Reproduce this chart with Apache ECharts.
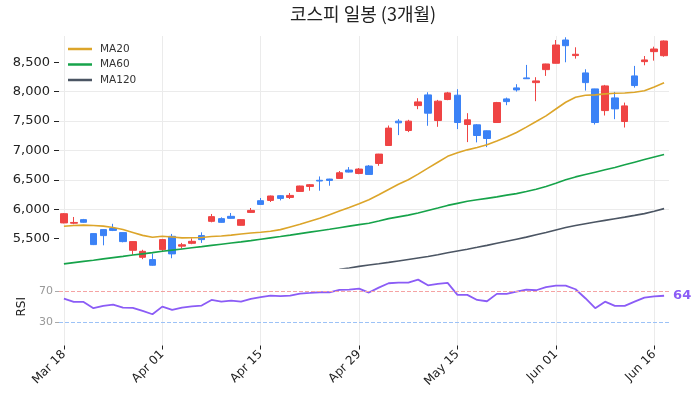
<!DOCTYPE html>
<html>
<head>
<meta charset="utf-8">
<script src="https://cdn.jsdelivr.net/npm/echarts@6/dist/echarts.min.js"></script>
<style>
html, body { margin: 0; padding: 0; background: #fff; }
#main { width: 700px; height: 411px; }
</style>
</head>
<body>
<div id="main"></div>
<script>
// trading days (category axis)
var dates = ['Mar 18', 'Mar 19', 'Mar 20', 'Mar 23', 'Mar 24', 'Mar 25', 'Mar 26', 'Mar 27', 'Mar 30', 'Mar 31',
    'Apr 01', 'Apr 02', 'Apr 03', 'Apr 06', 'Apr 07', 'Apr 08', 'Apr 09', 'Apr 10', 'Apr 13', 'Apr 14',
    'Apr 15', 'Apr 16', 'Apr 17', 'Apr 20', 'Apr 21', 'Apr 22', 'Apr 23', 'Apr 24', 'Apr 27', 'Apr 28',
    'Apr 29', 'Apr 30', 'May 04', 'May 06', 'May 07', 'May 08', 'May 11', 'May 12', 'May 13', 'May 14',
    'May 15', 'May 18', 'May 19', 'May 20', 'May 21', 'May 22', 'May 26', 'May 27', 'May 28', 'May 29',
    'Jun 01', 'Jun 02', 'Jun 04', 'Jun 05', 'Jun 08', 'Jun 09', 'Jun 10', 'Jun 11', 'Jun 12', 'Jun 15',
    'Jun 16', 'Jun 17'];

var openP = [5767, 5762, 5823, 5585, 5653, 5672, 5602, 5301, 5182, 5143,
    5313, 5539, 5372, 5420, 5551, 5794, 5840, 5879, 5726, 5946,
    6145, 6150, 6230, 6201, 6303, 6388, 6492, 6513, 6524, 6666,
    6609, 6734, 6779, 7084, 7498, 7339, 7763, 7945, 7509, 7866,
    7940, 7441, 7436, 7334, 7475, 7877, 8064, 8234, 8154, 8375,
    8483, 8879, 8614, 8319, 8047, 7678, 7894, 7492, 8268, 8511,
    8681, 8612];
var closeP = [5924, 5775, 5778, 5398, 5551, 5640, 5449, 5449, 5284, 5047,
    5483, 5240, 5395, 5454, 5483, 5874, 5777, 5845, 5823, 5980,
    6082, 6225, 6184, 6235, 6395, 6417, 6480, 6490, 6620, 6632,
    6683, 6592, 6938, 7380, 7470, 7498, 7826, 7634, 7838, 7979,
    7475, 7521, 7254, 7203, 7814, 7831, 8030, 8220, 8183, 8471,
    8794, 8782, 8636, 8154, 7475, 8098, 7707, 7758, 8104, 8540,
    8726, 8862];
var lowP = [5760, 5745, 5770, 5390, 5386, 5628, 5437, 5225, 5150, 5040,
    5274, 5166, 5330, 5405, 5427, 5777, 5771, 5840, 5722, 5936,
    6072, 6123, 6150, 6174, 6298, 6315, 6315, 6400, 6518, 6625,
    6595, 6590, 6739, 7080, 7261, 7312, 7702, 7420, 7402, 7855,
    7363, 7142, 7137, 7057, 7470, 7770, 8001, 8217, 7838, 8268,
    8480, 8500, 8562, 8018, 7441, 7594, 7532, 7390, 8069, 8449,
    8528, 8595];
var highP = [5935, 5868, 5835, 5590, 5658, 5752, 5605, 5455, 5310, 5245,
    5495, 5580, 5427, 5505, 5607, 5919, 5862, 5936, 5830, 6021,
    6191, 6232, 6238, 6276, 6400, 6429, 6558, 6518, 6650, 6717,
    6700, 6751, 6942, 7424, 7533, 7521, 7889, 7990, 7860, 7996,
    8042, 7634, 7448, 7340, 7826, 7899, 8127, 8455, 8246, 8475,
    8879, 8925, 8755, 8381, 8050, 8115, 7996, 7814, 8438, 8607,
    8765, 8870];

var ma20 = [5709, 5722, 5730, 5722, 5712, 5690, 5655, 5605, 5555, 5522,
    5540, 5528, 5512, 5514, 5520, 5535, 5545, 5560, 5578, 5595,
    5607, 5624, 5653, 5698, 5743, 5794, 5845, 5908, 5970, 6030,
    6094, 6162, 6245, 6335, 6425, 6502, 6598, 6700, 6800, 6900,
    6960, 7010, 7050, 7096, 7160, 7227, 7305, 7397, 7492, 7589,
    7705, 7820, 7905, 7940, 7945, 7962, 7972, 7978, 7990, 8015,
    8080, 8150];
var ma60 = [5070, 5091, 5112, 5133, 5155, 5177, 5198, 5220, 5241, 5262,
    5284, 5304, 5324, 5344, 5364, 5385, 5405, 5425, 5445, 5466,
    5490, 5513, 5536, 5560, 5585, 5610, 5635, 5660, 5686, 5712,
    5738, 5762, 5800, 5840, 5870, 5900, 5936, 5978, 6020, 6065,
    6100, 6135, 6160, 6185, 6210, 6240, 6265, 6300, 6340, 6385,
    6440, 6500, 6550, 6590, 6630, 6670, 6710, 6755, 6800, 6845,
    6890, 6931];
var ma120 = [null, null, null, null, null, null, null, null, null, null,
    null, null, null, null, null, null, null, null, null, null,
    null, null, null, null, null, null, null, null, 4978, 5000,
    5028, 5050, 5072, 5095, 5120, 5145, 5170, 5195, 5225, 5258,
    5290, 5320, 5352, 5385, 5420, 5455, 5490, 5525, 5565, 5605,
    5648, 5688, 5722, 5752, 5782, 5810, 5838, 5866, 5895, 5925,
    5965, 6010];

var rsi = [60.5, 56.2, 56.2, 48.1, 51.1, 52.8, 48.9, 48.5, 44.6, 40.3,
    50.2, 45.9, 48.9, 50.6, 51.5, 58.8, 56.7, 58.0, 56.7, 60.1,
    62.3, 64.4, 63.6, 64.4, 67.0, 67.8, 68.7, 68.7, 71.7, 72.1,
    73.4, 68.3, 74.7, 80.3, 81.2, 81.2, 85.0, 77.7, 79.5, 80.8,
    65.3, 65.3, 58.8, 57.1, 66.6, 66.6, 69.6, 72.2, 71.3, 75.2,
    77.3, 77.3, 72.6, 61.0, 48.1, 56.6, 51.2, 51.2, 56.6, 61.8,
    63.4, 64.2];

var priceTicks = [5500, 6000, 6500, 7000, 7500, 8000, 8500];
var rsiTicks = [30, 70];

var candles = [];
for (var i = 0; i < dates.length; i++) {
    candles.push([openP[i], closeP[i], lowP[i], highP[i]]);
}

var font = 'DejaVu Sans';
var gridColor = '#ebebeb';

var myChart = echarts.init(document.getElementById('main'));
var option = {
    animation: false,
    textStyle: { fontFamily: font },
    title: {
        text: '코스피 일봉 (3개월)',
        left: 290,
        top: 5,
        padding: 0,
        textStyle: { fontFamily: 'Noto Sans CJK KR', fontSize: 18, fontWeight: 'normal', color: '#222' }
    },
    legend: {
        orient: 'vertical',
        left: 68,
        top: 42,
        padding: 0,
        itemGap: 1.5,
        itemWidth: 24,
        itemHeight: 2.5,
        icon: 'rect',
        textStyle: { fontFamily: font, fontSize: 10.5, color: '#333', lineHeight: 14, padding: [0, 0, 0, 3] },
        data: ['MA20', 'MA60', 'MA120']
    },
    grid: [
        { left: 59, right: 31, top: 36, height: 232 },
        { left: 59, right: 31, top: 268, height: 77.5 }
    ],
    xAxis: [
        {
            type: 'category', gridIndex: 0, data: dates,
            axisLine: { show: false }, axisTick: { show: false }, axisLabel: { show: false },
            splitLine: { show: true, interval: 9, alignWithLabel: true, lineStyle: { color: gridColor } }
        },
        {
            type: 'category', gridIndex: 1, data: dates,
            axisLine: { show: false },
            axisTick: { show: true, interval: 9, alignWithLabel: true, length: 4, lineStyle: { color: '#222' } },
            axisLabel: { interval: 9, rotate: 45, fontFamily: font, fontSize: 12, color: '#222', margin: 7 },
            splitLine: { show: true, interval: 9, alignWithLabel: true, lineStyle: { color: gridColor } }
        }
    ],
    yAxis: [
        {
            type: 'value', gridIndex: 0, min: 5000, max: 8947, interval: 500,
            axisLine: { show: false },
            axisTick: { show: true, length: 5, customValues: priceTicks, lineStyle: { color: '#222' } },
            axisLabel: {
                customValues: priceTicks, fontFamily: font, fontSize: 13, color: '#222', margin: 9,
                formatter: function (v) { return v.toLocaleString('en-US'); }
            },
            splitLine: { show: true, showMinLine: false, showMaxLine: false, lineStyle: { color: gridColor } }
        },
        {
            type: 'value', gridIndex: 1, min: 0, max: 100,
            name: 'RSI', nameLocation: 'middle', nameGap: 30, nameRotate: 90,
            nameTextStyle: { fontFamily: font, fontSize: 12, color: '#222' },
            axisLine: { show: false },
            axisTick: { show: true, length: 4, customValues: rsiTicks, lineStyle: { color: '#aaa' } },
            axisLabel: { customValues: rsiTicks, fontFamily: font, fontSize: 11, color: '#999', margin: 6 },
            splitLine: { show: false }
        }
    ],
    series: [
        {
            name: 'MA20', type: 'line', data: ma20, symbol: 'none',
            lineStyle: { color: '#dca52a', width: 1.6 }, itemStyle: { color: '#dca52a' }
        },
        {
            name: 'MA60', type: 'line', data: ma60, symbol: 'none',
            lineStyle: { color: '#16a34a', width: 1.6 }, itemStyle: { color: '#16a34a' }
        },
        {
            name: 'MA120', type: 'line', data: ma120, symbol: 'none',
            lineStyle: { color: '#4b5563', width: 1.6 }, itemStyle: { color: '#4b5563' }
        },
        {
            name: '일봉', type: 'candlestick', data: candles, barWidth: 7,
            itemStyle: { color: '#ef4444', color0: '#3b82f6', borderColor: '#ef4444', borderColor0: '#3b82f6', borderWidth: 1 }
        },
        {
            name: 'RSI', type: 'line', xAxisIndex: 1, yAxisIndex: 1, data: rsi, symbol: 'none',
            lineStyle: { color: '#8b5cf6', width: 1.8 }, itemStyle: { color: '#8b5cf6' },
            endLabel: {
                show: true, distance: 9, color: '#8b5cf6', fontWeight: 'bold', fontSize: 13, fontFamily: font,
                formatter: function (p) { return Math.round(p.value); }
            },
            markLine: {
                silent: true, symbol: 'none', label: { show: false },
                data: [
                    { yAxis: 70, lineStyle: { color: '#f5a3a3', type: [4, 2], width: 1 } },
                    { yAxis: 30, lineStyle: { color: '#9cc2f7', type: [4, 2], width: 1 } }
                ]
            }
        }
    ]
};
myChart.setOption(option);
</script>
</body>
</html>
